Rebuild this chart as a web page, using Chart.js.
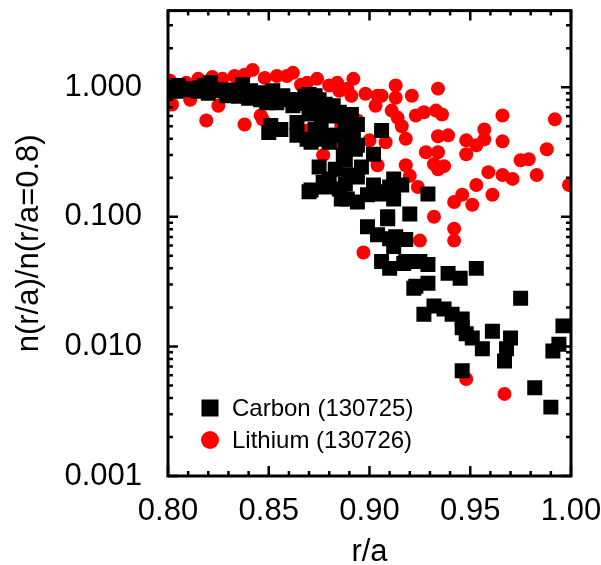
<!DOCTYPE html>
<html>
<head>
<meta charset="utf-8">
<script src="https://cdn.jsdelivr.net/npm/chart.js@4.4.1/dist/chart.umd.min.js"></script>
<style>
  body { margin: 0; background: #fff; }
  canvas { display: block; }
</style>
</head>
<body>
<canvas id="chart" width="601" height="565"></canvas>
<script>
// tick labels
const xTicks = [0.80, 0.85, 0.90, 0.95, 1.00];
const yTicks = [0.001, 0.01, 0.1, 1];

// Carbon (130725) - black squares
const carbonX = [0.8025, 0.805, 0.807, 0.811, 0.813, 0.816, 0.818, 0.821, 0.824, 0.827,
  0.829, 0.833, 0.837, 0.841, 0.846, 0.846, 0.849, 0.852, 0.854, 0.857,
  0.862, 0.864, 0.870, 0.873, 0.871, 0.874, 0.875, 0.879, 0.882, 0.885,
  0.891, 0.894, 0.850, 0.851, 0.856, 0.864, 0.864, 0.869, 0.871, 0.873,
  0.877, 0.879, 0.880, 0.884, 0.888, 0.891, 0.894, 0.893, 0.906, 0.902,
  0.887, 0.888, 0.875, 0.883, 0.880, 0.877, 0.890, 0.894, 0.896, 0.871,
  0.878, 0.885, 0.888, 0.886, 0.902, 0.910, 0.912, 0.916, 0.894, 0.899,
  0.905, 0.912, 0.889, 0.870, 0.902, 0.909, 0.909, 0.920, 0.929, 0.899,
  0.904, 0.909, 0.910, 0.913, 0.918, 0.912, 0.906, 0.917, 0.910, 0.922,
  0.918, 0.925, 0.929, 0.923, 0.929, 0.939, 0.945, 0.953, 0.975, 0.927,
  0.932, 0.937, 0.941, 0.946, 0.946, 0.948, 0.951, 0.956, 0.961, 0.970,
  0.968, 0.967, 0.946, 0.982, 0.990, 0.991, 0.994, 0.996,
  0.804, 0.815, 0.820, 0.830, 0.835, 0.840, 0.845, 0.855, 0.860, 0.866,
  0.868, 0.878, 0.883, 0.888, 0.876, 0.870, 0.889, 0.892];
const carbonY = [0.99, 1.03, 0.957, 0.975, 0.957, 0.99, 1.03, 1.08, 0.957, 0.94,
  0.86, 0.908, 1.045, 0.94, 0.908, 0.80, 0.76, 0.94, 0.76, 0.86,
  0.72, 0.80, 0.877, 0.86, 0.76, 0.67, 0.80, 0.67, 0.72, 0.64,
  0.615, 0.516, 0.448, 0.507, 0.472, 0.535, 0.425, 0.396, 0.376, 0.472,
  0.396, 0.425, 0.376, 0.425, 0.363, 0.396, 0.356, 0.332, 0.464, 0.304,
  0.299, 0.273, 0.242, 0.233, 0.196, 0.185, 0.21, 0.203, 0.242, 0.161,
  0.170, 0.164, 0.179, 0.137, 0.176, 0.170, 0.196, 0.176, 0.130, 0.148,
  0.150, 0.137, 0.137, 0.156, 0.164, 0.156, 0.100, 0.105, 0.150, 0.0838,
  0.0728, 0.0966, 0.0678, 0.0703, 0.0667, 0.0589, 0.0452, 0.0436, 0.040, 0.0281,
  0.0452, 0.0452, 0.0429, 0.0291, 0.0307, 0.0366, 0.0335, 0.040, 0.0235, 0.0177,
  0.0205, 0.0194, 0.0177, 0.0163, 0.0139, 0.0125, 0.0116, 0.0096, 0.0131, 0.0116,
  0.0096, 0.0077, 0.0065, 0.0048, 0.0034, 0.0092, 0.0104, 0.0144,
  0.93, 0.93, 0.90, 0.95, 0.85, 0.82, 0.86, 0.82, 0.80, 0.75,
  0.85, 0.74, 0.60, 0.55, 0.55, 0.62, 0.47, 0.45];

// Lithium (130726) - red circles
const lithiumX = [0.801, 0.802, 0.809, 0.811, 0.815, 0.819, 0.822, 0.825, 0.827, 0.833,
  0.838, 0.838, 0.842, 0.847, 0.848, 0.854, 0.859, 0.862, 0.869, 0.869,
  0.874, 0.877, 0.880, 0.884, 0.885, 0.886, 0.886, 0.891, 0.892, 0.894,
  0.897, 0.898, 0.900, 0.903, 0.904, 0.904, 0.908, 0.911, 0.913, 0.913,
  0.914, 0.916, 0.918, 0.918, 0.920, 0.921, 0.923, 0.927, 0.928, 0.932,
  0.932, 0.933, 0.934, 0.934, 0.934, 0.934, 0.936, 0.937, 0.939, 0.942,
  0.942, 0.942, 0.925, 0.924, 0.946, 0.948, 0.948, 0.948, 0.951, 0.953,
  0.953, 0.957, 0.957, 0.959, 0.961, 0.966, 0.966, 0.966, 0.967, 0.971,
  0.975, 0.979, 0.983, 0.988, 0.992, 0.999, 0.846, 0.906, 0.866, 0.889];
const lithiumY = [1.12, 0.735, 1.08, 0.80, 1.16, 0.553, 1.20, 0.72, 1.16, 1.22,
  1.25, 0.516, 1.36, 0.565, 1.18, 1.22, 1.22, 1.29, 1.08, 0.464,
  1.16, 0.299, 1.03, 1.08, 0.94, 0.507, 0.356, 0.86, 1.16, 0.553,
  0.053, 0.89, 0.389, 0.72, 0.86, 0.25, 0.376, 0.66, 1.03, 0.83,
  0.58, 0.50, 0.40, 0.25, 0.207, 0.86, 0.605, 0.64, 0.315, 0.255,
  0.100, 0.66, 0.418, 0.315, 0.233, 0.975, 0.615, 0.246, 0.425, 0.130,
  0.081, 0.0655, 0.0655, 0.170, 0.148, 0.0056, 0.389, 0.304, 0.124, 0.356,
  0.176, 0.472, 0.396, 0.221, 0.148, 0.21, 0.605, 0.382, 0.0043, 0.196,
  0.273, 0.278, 0.21, 0.332, 0.565, 0.176, 0.605, 0.86, 1.045, 0.975];

const toPoints = (xs, ys) => xs.map((x, i) => ({x: x, y: ys[i]}));

const FONT = '"Liberation Sans", Arial, sans-serif';

// frame with inward major/minor ticks on all four sides
const frameTicks = {
  id: 'frameTicks',
  afterDatasetsDraw(chart) {
    const {ctx, chartArea: a, scales} = chart;
    const xs = scales.x, ys = scales.y;
    ctx.save();
    ctx.strokeStyle = '#000';
    ctx.lineWidth = 2.5;
    ctx.lineCap = 'butt';
    ctx.beginPath();
    for (let i = 0; i <= 20; i++) {
      const v = 0.80 + i * 0.01;
      const px = xs.getPixelForValue(v);
      const len = (i % 5 === 0) ? 10 : 5;
      ctx.moveTo(px, a.bottom); ctx.lineTo(px, a.bottom - len);
      ctx.moveTo(px, a.top); ctx.lineTo(px, a.top + len);
    }
    for (let k = -3; k <= 0; k++) {
      for (let m = 1; m <= 9; m++) {
        const v = m * Math.pow(10, k);
        if (v > ys.max) break;
        const py = ys.getPixelForValue(v);
        const len = (m === 1) ? 10 : 5;
        ctx.moveTo(a.left, py); ctx.lineTo(a.left + len, py);
        ctx.moveTo(a.right, py); ctx.lineTo(a.right - len, py);
      }
    }
    ctx.stroke();
    ctx.lineWidth = 3;
    ctx.strokeRect(a.left, a.top, a.right - a.left, a.bottom - a.top);
    ctx.restore();
  }
};

// legend drawn inside the plot, lower left
const innerLegend = {
  id: 'innerLegend',
  afterDraw(chart) {
    const {ctx, chartArea: a} = chart;
    ctx.save();
    ctx.font = '24px ' + FONT;
    ctx.textBaseline = 'middle';
    chart.data.datasets.forEach((ds, i) => {
      const cy = a.bottom - 68 + i * 32;
      const cx = a.left + 42;
      ctx.fillStyle = ds.backgroundColor;
      if (ds.pointStyle === 'rect') {
        ctx.fillRect(cx - 8.5, cy - 8.5, 17, 17);
      } else {
        ctx.beginPath();
        ctx.arc(cx, cy, 9, 0, Math.PI * 2);
        ctx.fill();
      }
      ctx.fillStyle = '#000';
      ctx.fillText(ds.label, cx + 22, cy + 1);
    });
    ctx.restore();
  }
};

new Chart(document.getElementById('chart'), {
  type: 'scatter',
  data: {
    datasets: [
      {
        label: 'Carbon (130725)',
        data: toPoints(carbonX, carbonY),
        backgroundColor: '#000000',
        pointStyle: 'rect',
        pointRadius: 10.6,
        pointBorderWidth: 0,
        borderWidth: 0,
        clip: 0
      },
      {
        label: 'Lithium (130726)',
        data: toPoints(lithiumX, lithiumY),
        backgroundColor: '#ff0000',
        pointStyle: 'circle',
        pointRadius: 7,
        pointBorderWidth: 0,
        borderWidth: 0,
        clip: 0
      }
    ]
  },
  options: {
    responsive: false,
    animation: false,
    devicePixelRatio: 1,
    layout: { padding: { top: 8, right: 30, left: 0, bottom: 0 } },
    plugins: {
      legend: { display: false },
      tooltip: { enabled: false }
    },
    scales: {
      x: {
        type: 'linear',
        min: 0.8,
        max: 1.0,
        afterFit: (s) => { s.height = 89; s.paddingLeft = 0; s.paddingRight = 0; },
        afterBuildTicks: (s) => { s.ticks = xTicks.map(v => ({value: v})); },
        grid: { display: false },
        border: { display: false },
        ticks: {
          color: '#000',
          padding: 9,
          maxRotation: 0,
          font: { family: FONT, size: 31 },
          callback: (v) => Number(v).toFixed(2)
        },
        title: {
          display: true,
          text: 'r/a',
          color: '#000',
          font: { family: FONT, size: 31, lineHeight: 1 },
          padding: { top: 0, bottom: -3 }
        }
      },
      y: {
        type: 'logarithmic',
        min: 0.001,
        max: 3.9,
        afterFit: (s) => { s.width = 168; s.paddingTop = 0; s.paddingBottom = 0; },
        afterBuildTicks: (s) => { s.ticks = yTicks.map(v => ({value: v})); },
        grid: { display: false },
        border: { display: false },
        ticks: {
          color: '#000',
          padding: 18,
          font: { family: FONT, size: 31 },
          callback: (v) => Number(v).toFixed(3)
        },
        title: {
          display: true,
          text: 'n(r/a)/n(r/a=0.8)',
          color: '#000',
          font: { family: FONT, size: 31, lineHeight: 1 },
          padding: { top: 14, bottom: 0 }
        }
      }
    }
  },
  plugins: [frameTicks, innerLegend]
});
</script>
</body>
</html>
